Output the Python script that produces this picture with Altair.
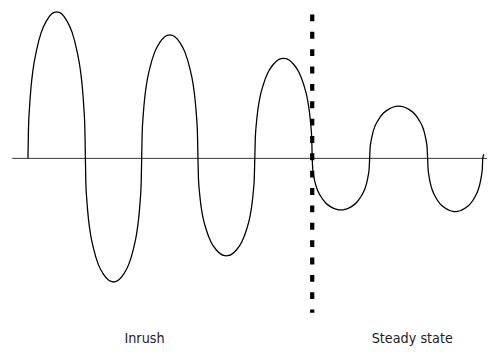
import altair as alt
import pandas as pd

# Zero crossings of each half-cycle (ms) and the peak of each half-cycle (per-unit)
crossings_ms = [0, 10.1, 20.0, 29.9, 39.9, 50.0, 60.1, 70.3, 80.0]
half_cycle_peaks = [2.81, -2.37, 2.37, -1.87, 1.92, -0.99, 1.0, -1.02]

# Shape of one half-cycle: offset (fraction of the half-cycle)
# and height (fraction of that half-cycle's peak)
arch_offset = [0, 0.0086, 0.026, 0.052, 0.086, 0.145, 0.231, 0.317, 0.41, 0.455, 0.5,
               0.545, 0.59, 0.683, 0.769, 0.855, 0.914, 0.948, 0.974, 0.9914, 1.0]
arch_height = [0, 0.20, 0.34, 0.48, 0.60, 0.73, 0.86, 0.935, 0.985, 0.996, 1.0,
               0.996, 0.985, 0.935, 0.86, 0.73, 0.60, 0.48, 0.34, 0.20, 0]

# Final tail just past the last crossing
tail_t = [80.2]
tail_v = [0.08]

# Boundary between inrush and steady state
boundary_t = 50.0
boundary_top, boundary_bottom = 2.76, -2.96

labels = ["Inrush", "Steady state"]
label_t = [20.5, 67.6]
label_v = [-3.55, -3.55]

baseline_from, baseline_to = -2.77, 80.74

rows = []
for i, peak in enumerate(half_cycle_peaks):
    a, b = crossings_ms[i], crossings_ms[i + 1]
    for k, (o, h) in enumerate(zip(arch_offset, arch_height)):
        if i > 0 and k == 0:
            continue
        rows.append({"t": a + o * (b - a), "v": peak * h})
for t, v in zip(tail_t, tail_v):
    rows.append({"t": t, "v": v})
wave = pd.DataFrame(rows)
wave["order"] = range(len(wave))

xs = alt.Scale(domain=[-3.512, 80.744], nice=False, zero=False)
ys = alt.Scale(domain=[-3.66, 2.83], nice=False, zero=False)

base_df = pd.DataFrame({"t": [baseline_from], "t2": [baseline_to], "v": [0.0]})
baseline = alt.Chart(base_df).mark_rule(color="#333333", strokeWidth=1).encode(
    x=alt.X("t:Q", scale=xs, axis=None),
    x2="t2:Q",
    y=alt.Y("v:Q", scale=ys, axis=None),
)

line = alt.Chart(wave).mark_line(color="#000000", strokeWidth=1.3, interpolate="monotone").encode(
    x=alt.X("t:Q", scale=xs, axis=None),
    y=alt.Y("v:Q", scale=ys, axis=None),
    order="order:Q",
)

bd = pd.DataFrame({"t": [boundary_t], "v": [boundary_top], "v2": [boundary_bottom]})
boundary = alt.Chart(bd).mark_rule(color="#000000", strokeWidth=4.3, strokeDash=[7, 10.65]).encode(
    x=alt.X("t:Q", scale=xs, axis=None),
    y=alt.Y("v:Q", scale=ys, axis=None),
    y2="v2:Q",
)

lab = pd.DataFrame({"t": label_t, "v": label_v, "text": labels})
text = alt.Chart(lab).mark_text(
    font="DejaVu Sans Condensed, Roboto, sans-serif", fontSize=14.5, color="#222222",
    align="center", baseline="alphabetic",
).encode(
    x=alt.X("t:Q", scale=xs, axis=None),
    y=alt.Y("v:Q", scale=ys, axis=None),
    text="text:N",
)

chart = alt.layer(baseline, line, boundary, text).properties(
    width=487, height=344,
    autosize=alt.AutoSizeParams(type="none"),
    padding=0,
    background="#ffffff",
).configure_view(stroke=None)

chart.save("out.html", embed_options={"renderer": "svg", "actions": False})
